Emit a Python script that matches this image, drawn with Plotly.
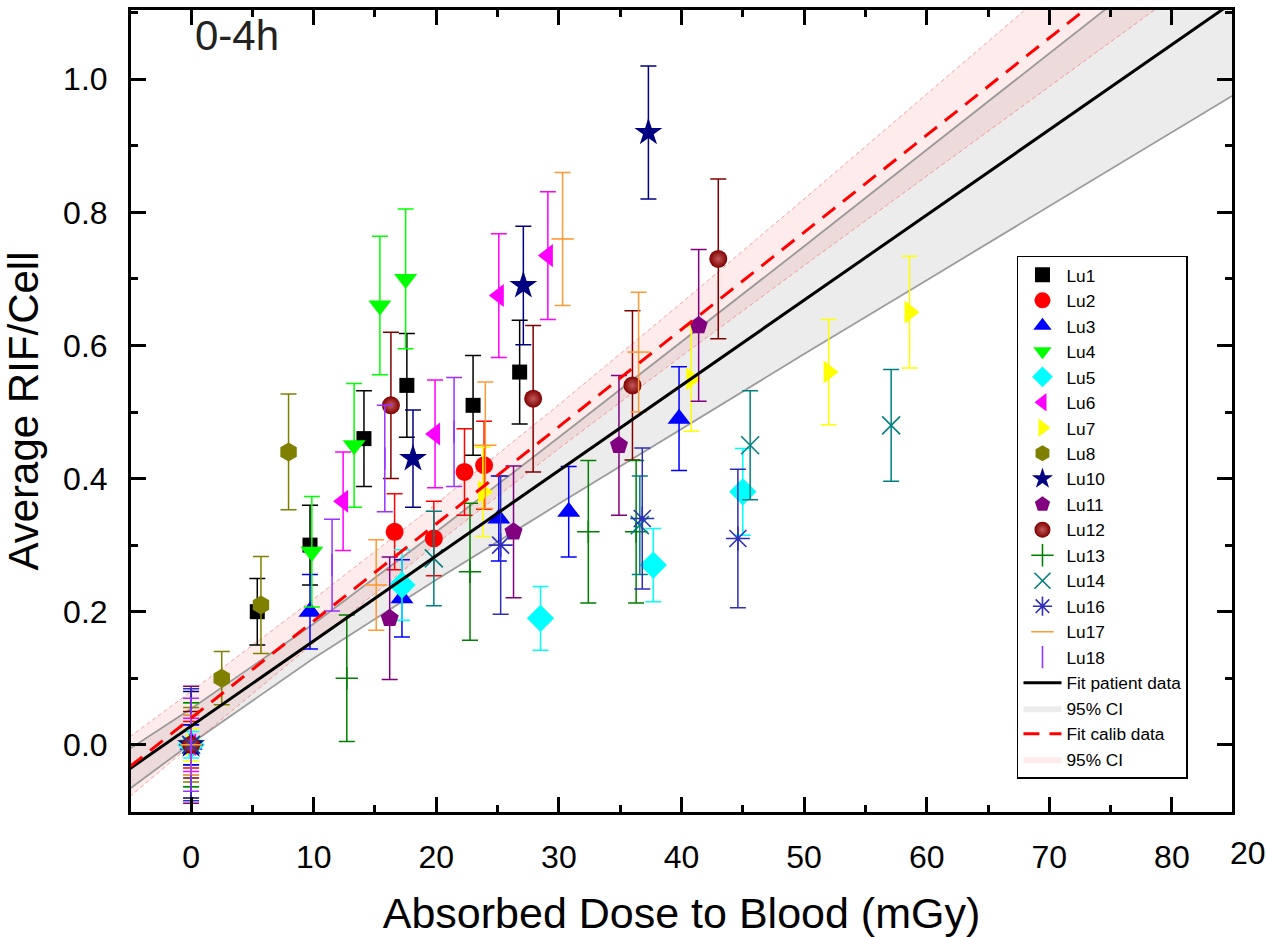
import plotly.graph_objects as go

# ---------------- data ----------------
lu1_x = [0, 5.4, 9.7, 14.1, 17.6, 23.0, 26.8]
lu1_y = [0, 0.20, 0.30, 0.46, 0.54, 0.51, 0.56]
lu1_e = [0.03, 0.05, 0.06, 0.072, 0.078, 0.075, 0.078]

lu2_x = [0, 16.6, 19.8, 22.3, 23.9]
lu2_y = [0, 0.32, 0.31, 0.41, 0.42]
lu2_e = [0.035, 0.057, 0.056, 0.065, 0.066]

lu3_x = [0, 9.7, 17.2, 25.1, 30.8, 39.8]
lu3_y = [0, 0.20, 0.22, 0.34, 0.35, 0.49]
lu3_e = [0.03, 0.056, 0.058, 0.064, 0.068, 0.078]

lu4_x = [0, 9.85, 13.3, 15.4, 17.5]
lu4_y = [0, 0.29, 0.45, 0.66, 0.70]
lu4_e = [0.063, 0.083, 0.093, 0.104, 0.105]

lu5_x = [0, 17.2, 28.5, 37.7, 45.0]
lu5_y = [0, 0.24, 0.19, 0.27, 0.38]
lu5_e = [0.02, 0.053, 0.048, 0.055, 0.065]

lu6_x = [0, 12.4, 19.9, 25.1, 29.1]
lu6_y = [0, 0.366, 0.467, 0.675, 0.735]
lu6_e = [0.04, 0.074, 0.081, 0.093, 0.096]

lu7_x = [0, 23.8, 40.8, 52.0, 58.6]
lu7_y = [0, 0.38, 0.55, 0.56, 0.65]
lu7_e = [0.024, 0.067, 0.079, 0.079, 0.084]

lu8_x = [0, 2.5, 5.7, 7.95]
lu8_y = [0, 0.10, 0.21, 0.44]
lu8_e = [0.056, 0.04, 0.073, 0.087]

lu10_x = [0, 18.1, 27.1, 37.3]
lu10_y = [0, 0.43, 0.69, 0.92]
lu10_e = [0.08, 0.073, 0.089, 0.10]

lu11_x = [0, 16.2, 26.3, 34.9, 41.4]
lu11_y = [0, 0.19, 0.32, 0.45, 0.63]
lu11_e = [0.088, 0.092, 0.099, 0.105, 0.114]

lu12_x = [0, 16.3, 27.9, 36.0, 43.0]
lu12_y = [0, 0.51, 0.52, 0.54, 0.73]
lu12_e = [0.05, 0.11, 0.11, 0.112, 0.12]

lu13_x = [0, 12.7, 22.75, 32.4, 36.3]
lu13_y = [0, 0.10, 0.26, 0.32, 0.32]
lu13_e = [0.063, 0.095, 0.103, 0.107, 0.107]

lu14_x = [0, 19.8, 36.6, 45.6, 57.1]
lu14_y = [0, 0.28, 0.33, 0.45, 0.48]
lu14_e = [0.045, 0.071, 0.074, 0.082, 0.084]

lu16_x = [0, 25.25, 36.8, 44.6]
lu16_y = [0, 0.30, 0.34, 0.31]
lu16_e = [0.084, 0.104, 0.106, 0.104]

lu17_x = [0, 15.1, 24.0, 30.3, 36.5]
lu17_y = [0, 0.24, 0.45, 0.76, 0.59]
lu17_e = [0.045, 0.068, 0.095, 0.10, 0.09]

lu18_x = [0, 11.5, 15.8, 21.45]
lu18_y = [0, 0.27, 0.43, 0.47]
lu18_e = [0.07, 0.069, 0.08, 0.082]

# fit lines and 95% confidence bands, read at these doses
band_x = [-5, 0, 10, 20, 30, 40, 50, 60, 70, 80, 85]
patient_fit = [-0.036, 0.028, 0.156, 0.284, 0.412, 0.540, 0.668, 0.796, 0.924, 1.052, 1.116]
patient_lo = [-0.066, 0.002, 0.130, 0.248, 0.362, 0.475, 0.587, 0.698, 0.809, 0.920, 0.976]
patient_hi = [-0.006, 0.054, 0.182, 0.320, 0.462, 0.605, 0.749, 0.894, 1.039, 1.184, 1.256]
calib_fit = [-0.033, 0.040, 0.186, 0.332, 0.478, 0.624, 0.770, 0.916, 1.062, 1.208, 1.281]
calib_lo = [-0.078, 0.000, 0.153, 0.302, 0.445, 0.584, 0.720, 0.855, 0.989, 1.123, 1.190]
calib_hi = [0.012, 0.080, 0.219, 0.362, 0.511, 0.664, 0.820, 0.977, 1.135, 1.293, 1.372]

x_ticks = [0, 10, 20, 30, 40, 50, 60, 70, 80]
y_ticks = [0.0, 0.2, 0.4, 0.6, 0.8, 1.0]

# ---------------- styling ----------------
FONT = "Liberation Sans, Arial, sans-serif"

series = [
    ("Lu1", lu1_x, lu1_y, lu1_e, "square", "#000000", 15),
    ("Lu2", lu2_x, lu2_y, lu2_e, "circle", "#ff0000", 18),
    ("Lu3", lu3_x, lu3_y, lu3_e, "triangle-up", "#0000ff", 20),
    ("Lu4", lu4_x, lu4_y, lu4_e, "triangle-down", "#00ff00", 20),
    ("Lu5", lu5_x, lu5_y, lu5_e, "diamond", "#00ffff", 21),
    ("Lu6", lu6_x, lu6_y, lu6_e, "triangle-left", "#ff00ff", 20),
    ("Lu7", lu7_x, lu7_y, lu7_e, "triangle-right", "#ffff00", 20),
    ("Lu8", lu8_x, lu8_y, lu8_e, "hexagon", "#808000", 19),
    ("Lu10", lu10_x, lu10_y, lu10_e, "star", "#000080", 21),
    ("Lu11", lu11_x, lu11_y, lu11_e, "pentagon", "#800080", 19),
    ("Lu12", lu12_x, lu12_y, lu12_e, "circle", "#800000", 18),
    ("Lu13", lu13_x, lu13_y, lu13_e, "cross-thin", "#008000", 16),
    ("Lu14", lu14_x, lu14_y, lu14_e, "x-thin", "#008080", 18),
    ("Lu16", lu16_x, lu16_y, lu16_e, "asterisk", "#2e2eb8", 20),
    ("Lu17", lu17_x, lu17_y, lu17_e, "line-ew", "#ff9933", 16),
    ("Lu18", lu18_x, lu18_y, lu18_e, "line-ns", "#9933ff", 16),
]

fig = go.Figure()

# confidence bands
fig.add_trace(go.Scatter(
    x=band_x + band_x[::-1], y=patient_hi + patient_lo[::-1],
    fill="toself", fillcolor="rgba(140,140,140,0.17)", mode="lines",
    line=dict(width=0), name="95% CI", legendrank=1018, hoverinfo="skip"))
fig.add_trace(go.Scatter(
    x=band_x + band_x[::-1], y=calib_hi + calib_lo[::-1],
    fill="toself", fillcolor="rgba(245,60,60,0.10)", mode="lines",
    line=dict(width=0), name="95% CI", legendrank=1020, hoverinfo="skip"))
for yy in (patient_lo, patient_hi):
    fig.add_trace(go.Scatter(x=band_x, y=yy, mode="lines", showlegend=False,
                             line=dict(color="rgba(140,140,140,0.85)", width=1.8),
                             hoverinfo="skip"))
for yy in (calib_lo, calib_hi):
    fig.add_trace(go.Scatter(x=band_x, y=yy, mode="lines", showlegend=False,
                             line=dict(color="rgba(255,90,90,0.55)", width=1, dash="4px,3px"),
                             hoverinfo="skip"))

# patient data
for i, (name, xs, ys, es, sym, col, size) in enumerate(series):
    thin = sym in ("cross-thin", "x-thin", "asterisk", "line-ew", "line-ns")
    marker = dict(symbol=sym, size=size, color=col,
                  line=dict(color=col, width=1.6 if thin else 0))
    if name == "Lu12":
        marker["gradient"] = dict(type="radial", color="#c25a5a")
    fig.add_trace(go.Scatter(
        x=xs, y=ys, mode="markers", name=name, marker=marker,
        legendrank=1000 + i,
        error_y=dict(type="data", array=es, visible=True, color=col,
                     thickness=1.5, width=8)))

# fit lines
fig.add_trace(go.Scatter(x=band_x, y=patient_fit, mode="lines", name="Fit patient data",
                         line=dict(color="black", width=3), legendrank=1017))
fig.add_trace(go.Scatter(x=band_x, y=calib_fit, mode="lines", name="Fit calib data",
                         line=dict(color="#ff0000", width=3, dash="16px,10px"),
                         legendrank=1019))

axis_common = dict(
    showline=True, linecolor="black", linewidth=3, mirror="allticks",
    ticks="inside", ticklen=15, tickwidth=2.5, tickcolor="black",
    showgrid=False, zeroline=False,
    tickfont=dict(family=FONT, size=32, color="black"),
)

fig.update_layout(
    width=1266, height=937,
    margin=dict(l=131, r=34, t=7, b=120),
    paper_bgcolor="white", plot_bgcolor="white",
    font=dict(family=FONT, color="black"),
    xaxis=dict(range=[-4.9, 84.9], tickmode="array", tickvals=x_ticks,
               minor=dict(dtick=5, tick0=0, ticks="inside", ticklen=7,
                          tickwidth=2.5, tickcolor="black"),
               ticklabelstandoff=15,
               title=dict(text="Absorbed Dose to Blood (mGy)",
                          font=dict(family=FONT, size=43, color="black"), standoff=24),
               **axis_common),
    yaxis=dict(range=[-0.101, 1.104], tickmode="array", tickvals=y_ticks,
               tickformat=".1f",
               minor=dict(dtick=0.1, tick0=0, ticks="inside", ticklen=7,
                          tickwidth=2.5, tickcolor="black"),
               ticklabelstandoff=14,
               title=dict(text="Average RIF/Cell",
                          font=dict(family=FONT, size=42, color="black"), standoff=14),
               **axis_common),
    legend=dict(x=0.8047, y=0.6938, xanchor="left", yanchor="top",
                bgcolor="white", bordercolor="black", borderwidth=1.5,
                font=dict(family=FONT, size=17.3, color="black"),
                tracegroupgap=0, itemwidth=38),
    showlegend=True,
)

fig.add_annotation(text="0-4h", xref="paper", yref="paper", x=0.0563, y=0.968,
                   xanchor="left", yanchor="middle", showarrow=False,
                   font=dict(family=FONT, size=42, color="#222222"))
fig.add_annotation(text="20", xref="paper", yref="paper", x=1.0145, y=-0.0505,
                   xanchor="center", yanchor="middle", showarrow=False,
                   font=dict(family=FONT, size=32, color="black"))

fig.write_html("out.html")
